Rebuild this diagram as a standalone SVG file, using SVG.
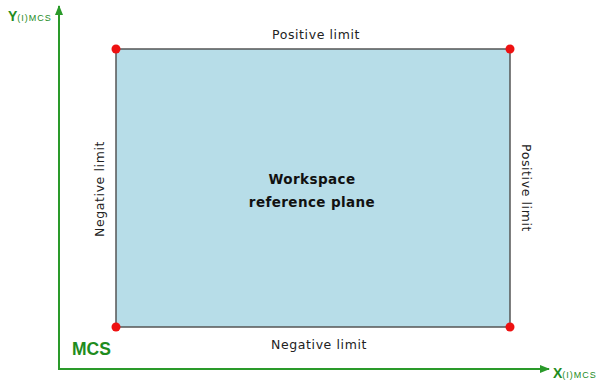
<svg xmlns="http://www.w3.org/2000/svg" width="599" height="385" viewBox="0 0 599 385">
<style>
.lbl{font-family:"DejaVu Sans",sans-serif;font-size:12.5px;fill:#222;letter-spacing:0.6px;}
.ax{font-family:"Liberation Sans",Arial,sans-serif;fill:#1e8c1e;font-weight:bold;}
.dot{fill:#ee1111;}
.axis{stroke:#2a9a2a;stroke-width:2;fill:none;}
</style>
<defs>
<marker id="arr" markerWidth="10" markerHeight="8" refX="9" refY="4" orient="auto" markerUnits="userSpaceOnUse">
<path d="M0,0 L10,4 L0,8 Z" fill="#2a9a2a"/>
</marker>
</defs>
<rect width="599" height="385" fill="#fff"/>
<g id="connectors">
<path class="axis" d="M59,370 L59,6" marker-end="url(#arr)"/>
<path class="axis" d="M58,369 L549,369" marker-end="url(#arr)"/>
</g>
<g id="plane">
<rect x="116" y="49" width="394" height="278" fill="#b7dde8" stroke="#555" stroke-width="1.5"/>
<text x="312" y="184" text-anchor="middle" font-family="'DejaVu Sans',sans-serif" font-weight="bold" font-size="13.5" letter-spacing="0.4" fill="#111">Workspace</text>
<text x="312" y="207" text-anchor="middle" font-family="'DejaVu Sans',sans-serif" font-weight="bold" font-size="13.5" letter-spacing="0.4" fill="#111">reference plane</text>
</g>
<g id="corners">
<circle class="dot" cx="116" cy="49" r="4.5"/>
<circle class="dot" cx="510" cy="49" r="4.5"/>
<circle class="dot" cx="116" cy="327" r="4.5"/>
<circle class="dot" cx="510" cy="327" r="4.5"/>
</g>
<g id="labels">
<text class="lbl" x="316" y="39" text-anchor="middle">Positive limit</text>
<text class="lbl" x="319" y="349" text-anchor="middle">Negative limit</text>
<text class="lbl" transform="translate(104,189) rotate(-90)" text-anchor="middle">Negative limit</text>
<text class="lbl" transform="translate(522,188) rotate(90)" text-anchor="middle">Positive limit</text>
</g>
<g id="axis-labels">
<text class="ax" x="8" y="21" font-size="14">Y<tspan font-size="9" font-weight="normal" letter-spacing="1">(I)MCS</tspan></text>
<text class="ax" x="553" y="378" font-size="14">X<tspan font-size="9" font-weight="normal" letter-spacing="1">(I)MCS</tspan></text>
<text class="ax" x="72" y="355" font-size="17.5">MCS</text>
</g>
</svg>
